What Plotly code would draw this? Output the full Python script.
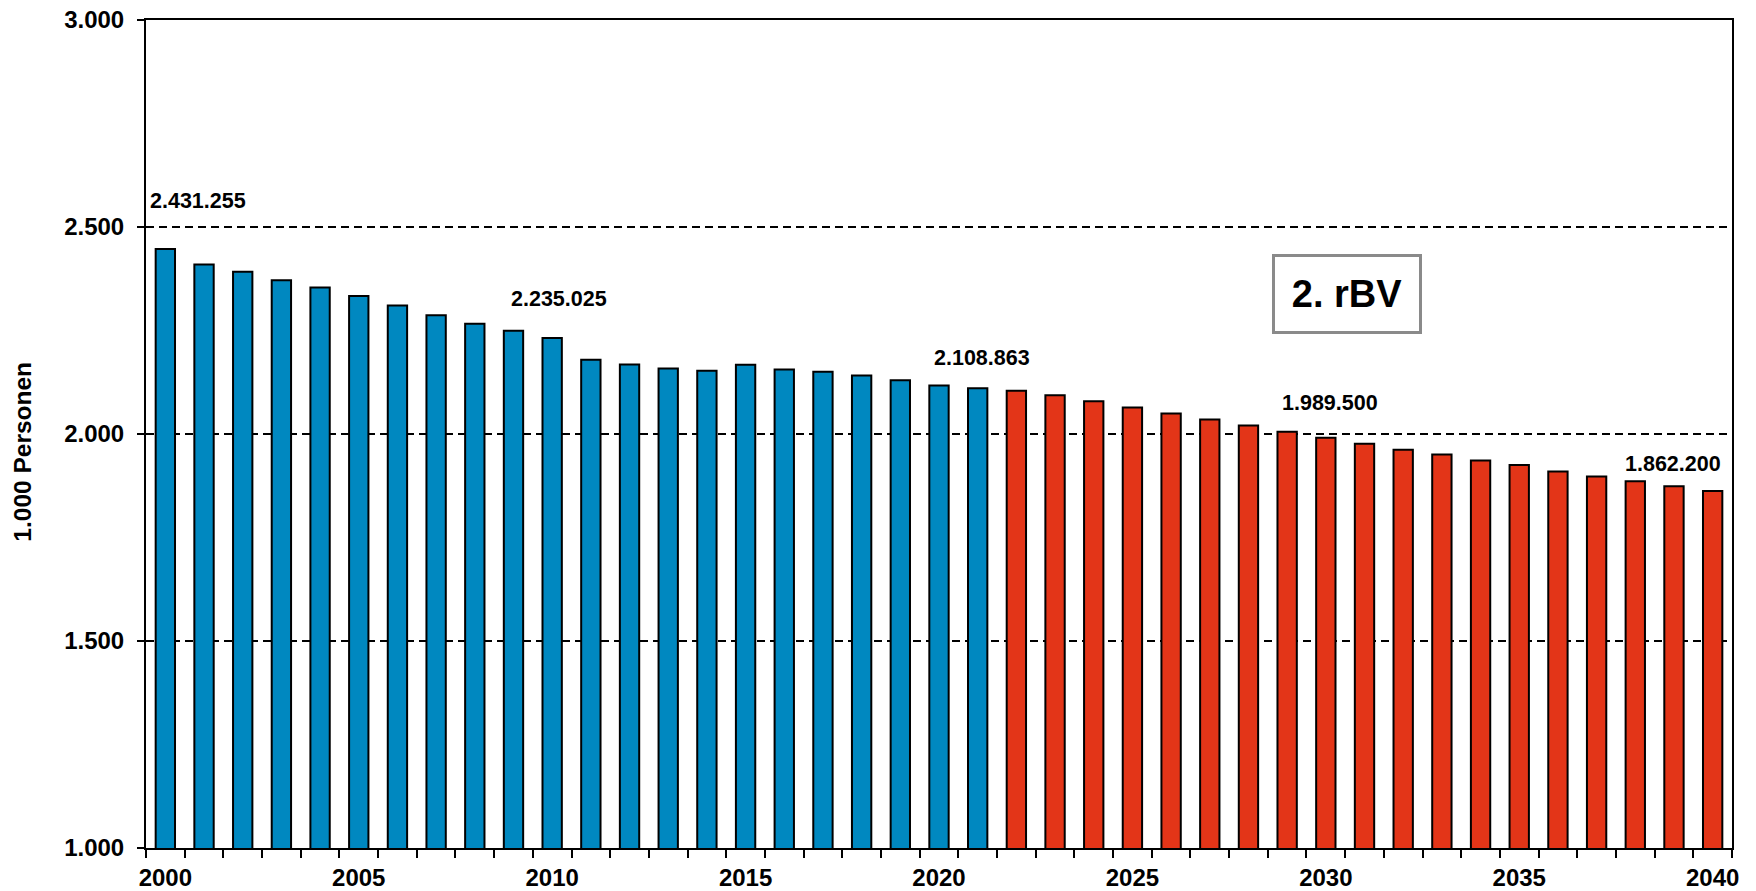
import plotly.graph_objects as go

# ---- data ----
hist_years = list(range(2000, 2022))
hist_values = [2446.7, 2409.6, 2391.7, 2371.6, 2353.8, 2333.6, 2310.2, 2286.8, 2266.6, 2249.6,
               2231.8, 2179.5, 2168.0, 2158.4, 2152.8, 2167.3, 2155.9, 2150.3, 2141.3, 2130.0,
               2117.2, 2110.7]
proj_years = list(range(2022, 2041))
proj_values = [2104.3, 2093.7, 2079.1, 2063.9, 2049.3, 2034.8, 2020.3, 2005.7, 1991.2, 1976.5,
               1962.0, 1950.6, 1936.0, 1924.9, 1909.4, 1897.3, 1886.0, 1874.0, 1862.6]

label_years = [2000, 2010, 2021, 2030, 2040]
label_texts = ["2.431.255", "2.235.025", "2.108.863", "1.989.500", "1.862.200"]

x_tick_years = [2000, 2005, 2010, 2015, 2020, 2025, 2030, 2035, 2040]
x_tick_text = ["2000", "2005", "2010", "2015", "2020", "2025", "2030", "2035", "2040"]
y_tick_vals = [1000, 1500, 2000, 2500, 3000]
y_tick_text = ["1.000", "1.500", "2.000", "2.500", "3.000"]

y_title = "1.000 Personen"
box_text = "2. rBV"

# ---- styling (not data) ----
FONT = "Liberation Sans, Arial, sans-serif"
BLUE = "#0088C0"
RED = "#E33518"
label_style = [  # (xanchor, xshift, yshift)
    ("left", -17, 48),
    ("center", 7, 39),
    ("center", 4, 30),
    ("center", 4, 35),
    ("right", 10, 27),
]

fig = go.Figure()
fig.add_trace(go.Bar(x=hist_years, y=hist_values, width=0.5,
                     marker=dict(color=BLUE, line=dict(color="black", width=2)),
                     showlegend=False, hoverinfo="x+y"))
fig.add_trace(go.Bar(x=proj_years, y=proj_values, width=0.5,
                     marker=dict(color=RED, line=dict(color="black", width=2)),
                     showlegend=False, hoverinfo="x+y"))

all_vals = dict(zip(hist_years + proj_years, hist_values + proj_values))
for yr, txt, (xa, xs, ys) in zip(label_years, label_texts, label_style):
    fig.add_annotation(x=yr, y=all_vals[yr], xref="x", yref="y", text=txt,
                       showarrow=False, xanchor=xa, yanchor="middle",
                       xshift=xs, yshift=ys,
                       font=dict(family=FONT, size=21.5, color="black", weight="bold"))

fig.add_annotation(x=2030.55, y=2338, xref="x", yref="y", text=box_text,
                   showarrow=False, xanchor="center", yanchor="middle",
                   width=140, height=70, borderpad=2, borderwidth=3,
                   bordercolor="#8a8a8a", bgcolor="white",
                   font=dict(family=FONT, size=38, color="black", weight="bold"))

# y-axis title placed as a rotated annotation (sits a little below the plot centre)
fig.add_annotation(x=-0.078, y=0.479, xref="paper", yref="paper", text=y_title,
                   textangle=-90, showarrow=False, xanchor="center", yanchor="middle",
                   borderpad=0,
                   font=dict(family=FONT, size=24.5, color="black", weight="bold"))

# page body adds an 8px margin, so the figure is sized to fit the window
fig.update_layout(
    width=1748, height=883,
    margin=dict(l=138, r=24, t=12, b=43),
    plot_bgcolor="white", paper_bgcolor="white",
    barmode="overlay",
    font=dict(family=FONT, color="black"),
)
fig.update_xaxes(
    range=[1999.5, 2040.5], automargin=False,
    tickmode="array", tickvals=x_tick_years, ticktext=x_tick_text,
    ticks="", ticklabelstandoff=7, ticklabeloverflow="allow",
    tickfont=dict(family=FONT, size=24, color="black", weight="bold"),
    showline=True, linecolor="black", linewidth=2, mirror=True,
    showgrid=False, zeroline=False,
    minor=dict(ticks="outside", tick0=1999.5, dtick=1, ticklen=8,
               tickwidth=1.5, tickcolor="black", showgrid=False),
)
fig.update_yaxes(
    range=[1000, 3000], automargin=False,
    tickmode="array", tickvals=y_tick_vals, ticktext=y_tick_text,
    ticks="outside", ticklen=7, tickwidth=1.5, tickcolor="black",
    ticklabelstandoff=8, ticklabeloverflow="allow",
    tickfont=dict(family=FONT, size=24, color="black", weight="bold"),
    showline=True, linecolor="black", linewidth=2, mirror=True,
    showgrid=True, gridcolor="black", gridwidth=1.5, griddash="8px,5px",
    zeroline=False,
)

fig.write_html("out.html")
